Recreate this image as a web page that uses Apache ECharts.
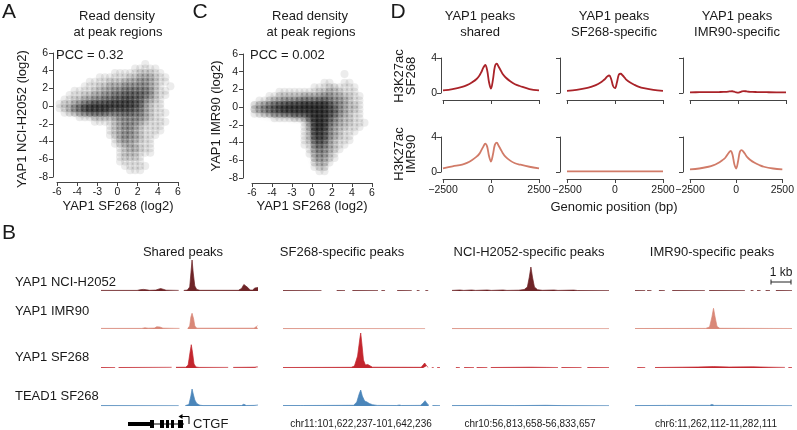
<!DOCTYPE html>
<html><head><meta charset="utf-8">
<script src="https://cdn.jsdelivr.net/npm/echarts/dist/echarts.min.js"></script>
<style>html,body{margin:0;padding:0;background:#fff}#c{width:797px;height:430px}</style>
</head><body><div id="c"></div>
<script>
// ---------------- DATA ----------------
const scatterXTicks = ['-6','-4','-3','0','2','4','6'];
const densityXCenters = [-5.75,-5.25,-4.75,-4.25,-3.75,-3.25,-2.75,-2.25,-1.75,-1.25,-0.75,-0.25,0.25,0.75,1.25,1.75,2.25,2.75,3.25,3.75,4.25,4.75,5.25,5.75];
const densityYCenters = [5.75,5.25,4.75,4.25,3.75,3.25,2.75,2.25,1.75,1.25,0.75,0.25,-0.25,-0.75,-1.25,-1.75,-2.25,-2.75,-3.25,-3.75,-4.25,-4.75,-5.25,-5.75,-6.25,-6.75,-7.25,-7.75];
// Panel A: YAP1 SF268 (x) vs YAP1 NCI-H2052 (y), density 0-9
const densityA = [
"000000000000000000000000",
"000000000000000000000000",
"000000000000000001000000",
"000000000000000111110000",
"000000000001111122211000",
"000000001111112233321100",
"000000111122233344321100",
"000001112233344444321010",
"000111122334455555421100",
"001112233445566665421100",
"011223344556677664321000",
"122345677788888763211000",
"123568999987877653211000",
"012345666655566553211100",
"000011122223444443211000",
"000000011112344432111100",
"000000000012344321111000",
"000000000012344321111000",
"000000000012344321110000",
"000000000001343321100000",
"000000000001233211100000",
"000000000000123321100000",
"000000000000122211100000",
"000000000000122210000000",
"000000000000111110000000",
"000000000000011111000000",
"000000000000001110000000",
"000000000000000000000000"];
// Panel C: YAP1 SF268 (x) vs YAP1 IMR90 (y)
const densityC = [
"000000000000000000000000",
"000000000000000000000000",
"000000000000000000000000",
"000000000000000000000000",
"000000000000000000100000",
"000000000000000000000000",
"000000000000001100110000",
"000000000000111221111000",
"000001111111122322111000",
"000112222233334433221100",
"011233444555566544321100",
"234567788899999754322100",
"345678999999998764322100",
"123455667778999764321100",
"000011112236998643221100",
"000000000013898543221110",
"000000000013898432211100",
"000000000012887432111000",
"000000000012787432110000",
"000000000012676321110000",
"000000000011565321100000",
"000000000001454321000000",
"000000000001344210000000",
"000000000000343210000000",
"000000000000233100000000",
"000000000000122000000000",
"000000000000011000000000",
"000000000000000000000000"];

// Panel D: H3K27ac profiles around YAP1 peaks
const dPositions = [-2500,-2000,-1500,-1250,-1000,-750,-600,-500,-400,-300,-200,-100,0,100,200,300,400,500,600,750,1000,1250,1500,2000,2500];
const dTickLabels = ['\u22122500','0','2500'];
const sf268Shared   = [0.3,0.45,0.7,0.9,1.2,1.6,2.0,2.4,2.9,3.2,2.6,1.2,0.5,1.5,3.0,3.35,3.0,2.6,2.2,1.8,1.35,1.0,0.8,0.45,0.3];
const sf268SF       = [0.25,0.35,0.55,0.7,0.9,1.2,1.45,1.65,1.9,2.0,1.6,0.8,0.55,1.2,2.1,2.2,2.0,1.75,1.5,1.25,0.95,0.7,0.55,0.35,0.25];
const sf268IMR      = [0.08,0.09,0.1,0.1,0.11,0.12,0.14,0.16,0.19,0.2,0.15,0.08,0.04,0.1,0.18,0.22,0.2,0.16,0.14,0.12,0.11,0.1,0.09,0.08,0.08];
const imr90Shared   = [0.42,0.65,0.85,1.05,1.35,1.75,2.1,2.5,2.9,3.25,2.9,1.8,1.2,2.0,3.1,3.35,3.0,2.6,2.2,1.75,1.3,1.0,0.85,0.6,0.42];
const imr90SF       = [0.08,0.08,0.08,0.08,0.08,0.08,0.08,0.08,0.08,0.08,0.08,0.08,0.08,0.08,0.08,0.08,0.08,0.08,0.08,0.08,0.08,0.08,0.08,0.08,0.08];
const imr90IMR      = [0.3,0.4,0.6,0.75,1.0,1.35,1.6,1.9,2.2,2.4,2.0,0.9,0.4,1.2,2.3,2.5,2.3,2.0,1.7,1.4,1.05,0.8,0.6,0.4,0.3];

// Panel B: genome browser tracks, [position kb, signal]; null = no coverage
const trackNCI_shared = [[0,0.6],[4.6,0.6],[5.0,1.3],[5.4,1.6],[5.8,1.2],[6.2,0.7],[7.0,0.9],[7.3,1.8],[7.6,2.4],[7.9,1.8],[8.3,0.8],[9.9,0.6],[9.95,null],[10.5,null],[10.55,0.6],[11.0,0.9],[11.3,4],[11.5,22],[11.6,31],[11.75,18],[11.95,5],[12.2,1.5],[12.6,0.7],[17.5,0.7],[17.9,2.5],[18.2,6.5],[18.4,7.3],[18.7,3.5],[19.0,1],[19.3,0.9],[19.6,3],[19.8,4.7],[20,3.5]];
const trackIMR_shared = [[0,0.6],[5.2,0.6],[5.6,1.2],[6.0,0.8],[6.8,0.9],[7.1,2.2],[7.25,3.3],[7.5,2],[7.9,0.8],[10.0,0.6],[10.05,null],[11.0,null],[11.05,0.6],[11.3,3],[11.45,12],[11.6,15.7],[11.8,10],[11.95,3],[12.2,0.8],[19.5,0.8],[19.8,2.5],[19.95,3.3],[20,3]];
const trackSF_shared = [[0,0.5],[1.8,0.5],[1.85,null],[2.2,null],[2.25,0.5],[9.0,0.7],[9.05,null],[9.5,null],[9.55,0.7],[10.8,0.8],[11.1,3],[11.35,16],[11.5,23.3],[11.65,16],[11.85,4],[12.1,1],[12.5,0.6],[16.2,0.6],[16.25,null],[16.8,null],[16.85,0.6],[19.6,0.8],[19.9,1.2],[20,0.8]];
const trackTEAD_shared = [[0,0.4],[9.9,0.4],[9.95,null],[10.7,null],[10.75,0.4],[11.2,1.5],[11.45,10],[11.6,17],[11.75,12],[11.95,6],[12.2,2.5],[12.6,0.8],[13.0,0.4],[17.9,0.5],[18.2,1.8],[18.5,0.5],[19.5,0.6],[19.75,1.5],[20,1]];

const trackNCI_sf = [[0,0.5],[4.9,0.5],[4.95,null],[6.8,null],[6.85,0.5],[7.9,0.5],[7.95,null],[8.8,null],[8.85,0.5],[12.1,0.5],[12.15,null],[12.5,null],[12.55,0.5],[13.0,0.5],[13.05,null],[14.5,null],[14.55,0.5],[16.4,0.5],[16.45,null],[17.0,null],[17.05,0.5],[17.4,0.5],[17.45,null],[18.1,null],[18.15,0.5],[18.5,0.5]];
const trackIMR_sf = [[0,0.4],[18.1,0.4]];
const trackSF_sf = [[0,0.5],[8.7,0.7],[9.1,2],[9.5,12],[9.8,30],[9.9,35],[10.05,24],[10.25,8],[10.5,3],[10.8,3.5],[11.0,2],[11.4,0.8],[17.6,0.7],[17.85,2.5],[18.05,5],[18.3,2],[18.5,0.6],[18.55,null],[18.9,null],[18.95,0.5],[19.2,0.5],[19.25,null],[19.6,null],[19.65,0.5],[20,0.5]];
const trackTEAD_sf = [[0,0.5],[2.2,0.5],[2.4,1.0],[2.6,0.5],[9.0,0.7],[9.4,4],[9.7,12],[9.9,16],[10.1,10],[10.4,5],[10.7,4],[11.0,2.5],[11.4,1.3],[12,0.6],[14.5,0.5],[14.8,1],[15.1,0.5],[17.5,0.6],[17.85,3],[18.1,5.3],[18.35,2.5],[18.6,0.7],[18.65,null],[19.0,null],[19.05,0.5],[20,0.5]];

const trackNCI_nci = [[0,0.6],[1.0,1.0],[1.5,0.6],[2.5,1.0],[3.0,0.6],[4.5,1.0],[5.0,0.6],[6.5,1.0],[7.0,0.6],[8.5,0.8],[9.2,1.5],[9.6,4],[9.85,14],[10.05,24],[10.25,14],[10.5,4],[10.9,1.3],[11.5,0.7],[13.0,1.0],[13.5,0.6],[15.5,0.9],[16,0.5],[20,0.5]];
const trackIMR_nci = [[0,0.4],[20,0.4]];
const trackSF_nci = [[0.5,0.5],[1.0,0.5],[1.05,null],[1.5,null],[1.55,0.5],[2.8,0.5],[2.85,null],[3.1,null],[3.15,0.5],[4.5,0.5],[4.55,null],[4.9,null],[4.95,0.5],[10,0.8],[12,0.6],[13.5,0.5],[13.55,null],[13.9,null],[13.95,0.5],[16.5,0.5],[16.55,null],[17.2,null],[17.25,0.5],[20,0.5]];
const trackTEAD_nci = [[0,0.4],[5,0.6],[8,0.4],[12,0.7],[14,0.4],[20,0.4]];

const trackNCI_imr = [[0,0.5],[1.3,0.5],[1.35,null],[1.5,null],[1.55,0.5],[2.1,0.5],[2.15,null],[3.0,null],[3.05,0.5],[3.8,0.5],[3.85,null],[4.7,null],[4.75,0.5],[8.9,0.5],[8.95,null],[9.4,null],[9.45,0.5],[14.0,0.5],[14.05,null],[14.7,null],[14.75,0.5],[15.1,0.5],[15.15,null],[15.5,null],[15.55,0.5],[16.0,0.5],[16.05,null],[16.6,null],[16.65,0.5],[17.2,0.5],[17.25,null],[17.9,null],[17.95,0.5],[20,0.5]];
const trackIMR_imr = [[0,0.5],[9.0,0.6],[9.5,2],[9.8,12],[10.0,20.7],[10.2,12],[10.45,2.5],[10.8,0.7],[20,0.5]];
const trackSF_imr = [[0.3,0.5],[1.3,0.5],[1.35,null],[2.5,null],[2.55,0.5],[6,0.8],[8,1.0],[10,1.4],[12,1.0],[15,1.2],[17,0.8],[19.1,0.6],[19.15,null],[19.5,null],[19.55,0.5],[20,0.5]];
const trackTEAD_imr = [[0,0.4],[4,0.6],[9.5,0.6],[9.8,1.6],[10.1,0.6],[14,0.5],[20,0.4]];

const trackRowLabels = ['YAP1 NCI-H2052','YAP1 IMR90','YAP1 SF268','TEAD1 SF268'];
const trackColTitles = ['Shared peaks','SF268-specific peaks','NCI-H2052-specific peaks','IMR90-specific peaks'];
const trackCoords = ['','chr11:101,622,237-101,642,236','chr10:56,813,658-56,833,657','chr6:11,262,112-11,282,111'];
const dColTitles = [['YAP1 peaks','shared'],['YAP1 peaks','SF268-specific'],['YAP1 peaks','IMR90-specific']];

// ---------------- LAYOUT / STYLE ----------------
const FONT = '"Liberation Sans", Arial, sans-serif';
const TXT = '#1a1a1a';
const AX = '#444';
const grids = [], xAxes = [], yAxes = [], series = [], graphics = [];

function text(str, x, y, opt) {
  graphics.push(Object.assign({type:'text', x:x, y:y, silent:true,
    style: Object.assign({text:str, font:'13px ' + FONT, fill:TXT, textAlign:'center', textVerticalAlign:'middle'}, (opt && opt.style) || {})},
    opt && opt.rotation ? {rotation: opt.rotation} : {}));
}
const axLine = {show:true, onZero:false, lineStyle:{color:AX, width:1}};
const axTick = {show:true, length:4, lineStyle:{color:AX}};

// ---- scatter panels
function scatterPanel(grid, yOffset, dens) {
  const gi = grids.length;
  grids.push(grid);
  xAxes.push({gridIndex:gi, type:'value', min:-6, max:6, interval:2, offset:5,
    axisLine:axLine, axisTick:axTick,
    axisLabel:{fontSize:10.5, color:TXT, fontFamily:FONT, margin:5, formatter:v => scatterXTicks[Math.round((v + 6) / 2)]},
    splitLine:{show:false}});
  yAxes.push({gridIndex:gi, type:'value', min:-8, max:6, interval:2, offset:yOffset,
    axisLine:axLine, axisTick:axTick,
    axisLabel:{fontSize:10.5, color:TXT, fontFamily:FONT, margin:5},
    splitLine:{show:false}});
  const pts = [];
  dens.forEach((row, r) => {
    for (let c = 0; c < row.length; c++) {
      const v = +row[c];
      if (v > 0) {
        const a = 0.04 + 0.062 * v;
        pts.push({value:[densityXCenters[c], densityYCenters[r]],
          itemStyle:{color:'rgba(20,20,20,' + a.toFixed(3) + ')', shadowBlur:7, shadowColor:'rgba(20,20,20,' + a.toFixed(3) + ')'}});
      }
    }
  });
  series.push({type:'scatter', xAxisIndex:gi, yAxisIndex:gi, symbol:'circle', symbolSize:8, data:pts, silent:true, animation:false});
}
scatterPanel({left:57, top:53, width:121, height:124}, 4, densityA);
scatterPanel({left:252, top:54, width:120, height:124}, 9, densityC);

// ---- panel D profile plots
const dColX = [443, 567, 690];
const dRowTop = [58, 137];
const dYOffset = [2, 7, 7];
const dColors = ['#aa2329', '#d17b68'];
const dData = [[sf268Shared, sf268SF, sf268IMR], [imr90Shared, imr90SF, imr90IMR]];
for (let r = 0; r < 2; r++) {
  for (let c = 0; c < 3; c++) {
    const gi = grids.length;
    grids.push({left:dColX[c], top:dRowTop[r], width:96, height:35});
    xAxes.push({gridIndex:gi, type:'value', min:-2500, max:2500, interval:2500, offset:7,
      axisLine:axLine, axisTick:axTick,
      axisLabel:{show:r === 1, fontSize:10.5, color:TXT, fontFamily:FONT, margin:6,
        formatter:v => dTickLabels[Math.round((v + 2500) / 2500)]},
      splitLine:{show:false}});
    yAxes.push({gridIndex:gi, type:'value', min:0, max:4, interval:4, offset:dYOffset[c],
      axisLine:axLine, axisTick:axTick,
      axisLabel:{show:c === 0, fontSize:10.5, color:TXT, fontFamily:FONT, margin:4},
      splitLine:{show:false}});
    series.push({type:'line', xAxisIndex:gi, yAxisIndex:gi, smooth:0.35, symbol:'none', silent:true, animation:false,
      lineStyle:{color:dColors[r], width:1.8},
      data:dPositions.map((p, i) => [p, dData[r][c][i]])});
  }
}

// ---- panel B tracks
const tColX = [101, 283, 452, 635];
const tBase = [291, 329, 368, 406];
const tColors = ['#6e2427', '#d98878', '#c3262e', '#4b86ba'];
const tracks = [
  [trackNCI_shared, trackNCI_sf, trackNCI_nci, trackNCI_imr],
  [trackIMR_shared, trackIMR_sf, trackIMR_nci, trackIMR_imr],
  [trackSF_shared, trackSF_sf, trackSF_nci, trackSF_imr],
  [trackTEAD_shared, trackTEAD_sf, trackTEAD_nci, trackTEAD_imr]];
for (let r = 0; r < 4; r++) {
  for (let c = 0; c < 4; c++) {
    const gi = grids.length;
    grids.push({left:tColX[c], top:tBase[r] - 40, width:157, height:40});
    xAxes.push({gridIndex:gi, type:'value', min:0, max:20, show:false});
    yAxes.push({gridIndex:gi, type:'value', min:0, max:40, show:false});
    series.push({type:'line', xAxisIndex:gi, yAxisIndex:gi, symbol:'none', silent:true, animation:false, connectNulls:false,
      lineStyle:{color:tColors[r], width:1, opacity:0.7},
      areaStyle:{color:tColors[r], opacity:1},
      data:tracks[r][c].map(p => [p[0], p[1] === null ? '-' : p[1]])});
  }
}

// ---------------- TEXT ----------------
const big = {style:{font:'21px ' + FONT}};
text('A', 9, 12, big); text('C', 200, 12, big); text('D', 398, 12, big); text('B', 9, 233, big);
text('Read density', 117, 16); text('at peak regions', 118, 32);
text('Read density', 310, 16); text('at peak regions', 311, 32);
text('PCC = 0.32', 56, 55, {style:{textAlign:'left'}});
text('PCC = 0.002', 250, 55, {style:{textAlign:'left'}});
text('YAP1 NCI-H2052 (log2)', 22, 119, {rotation:Math.PI/2});
text('YAP1 IMR90 (log2)', 216, 116, {rotation:Math.PI/2});
text('YAP1 SF268 (log2)', 118, 206);
text('YAP1 SF268 (log2)', 312, 206);
const dCx = [480, 614, 737];
dColTitles.forEach((t, i) => { text(t[0], dCx[i], 16); text(t[1], dCx[i], 32); });
text('H3K27ac\nSF268', 405, 76, {rotation:Math.PI/2, style:{lineHeight:12}});
text('H3K27ac\nIMR90', 405, 154, {rotation:Math.PI/2, style:{lineHeight:12}});
text('Genomic position (bp)', 614, 207);
const tCx = [183, 342, 529, 712];
trackColTitles.forEach((t, i) => text(t, tCx[i], 252));
trackRowLabels.forEach((t, i) => text(t, 15, [282, 311, 357, 396][i], {style:{textAlign:'left'}}));
const coordX = [0, 361, 530, 716];
trackCoords.forEach((t, i) => { if (t) text(t, coordX[i], 424, {style:{font:'10px ' + FONT}}); });
text('CTGF', 193, 424, {style:{textAlign:'left'}});
text('1 kb', 781, 273, {style:{font:'12px ' + FONT}});

// scale bar
graphics.push({type:'line', silent:true, shape:{x1:771, y1:282, x2:791, y2:282}, style:{stroke:'#222', lineWidth:1}});
graphics.push({type:'line', silent:true, shape:{x1:771, y1:279.5, x2:771, y2:284.5}, style:{stroke:'#222', lineWidth:1}});
graphics.push({type:'line', silent:true, shape:{x1:791, y1:279.5, x2:791, y2:284.5}, style:{stroke:'#222', lineWidth:1}});
// CTGF gene model
graphics.push({type:'line', silent:true, shape:{x1:128, y1:424, x2:184, y2:424}, style:{stroke:'#000', lineWidth:1.2}});
graphics.push({type:'rect', silent:true, shape:{x:128, y:422, width:22, height:4}, style:{fill:'#000'}});
[[150,4],[160,4],[166,3],[171,3],[178,5]].forEach(e => graphics.push({type:'rect', silent:true, shape:{x:e[0], y:420, width:e[1], height:8}, style:{fill:'#000'}}));
graphics.push({type:'polyline', silent:true, shape:{points:[[189,424],[189,416.5],[182,416.5]]}, style:{stroke:'#000', lineWidth:1, fill:null}});
graphics.push({type:'polygon', silent:true, shape:{points:[[178.5,416.5],[182.5,414],[182.5,419]]}, style:{fill:'#000'}});

const chart = echarts.init(document.getElementById('c'), null, {renderer:'canvas'});
chart.setOption({
  animation:false,
  backgroundColor:'#fff',
  textStyle:{fontFamily:FONT},
  grid:grids, xAxis:xAxes, yAxis:yAxes, series:series, graphic:graphics
});
</script></body></html>
